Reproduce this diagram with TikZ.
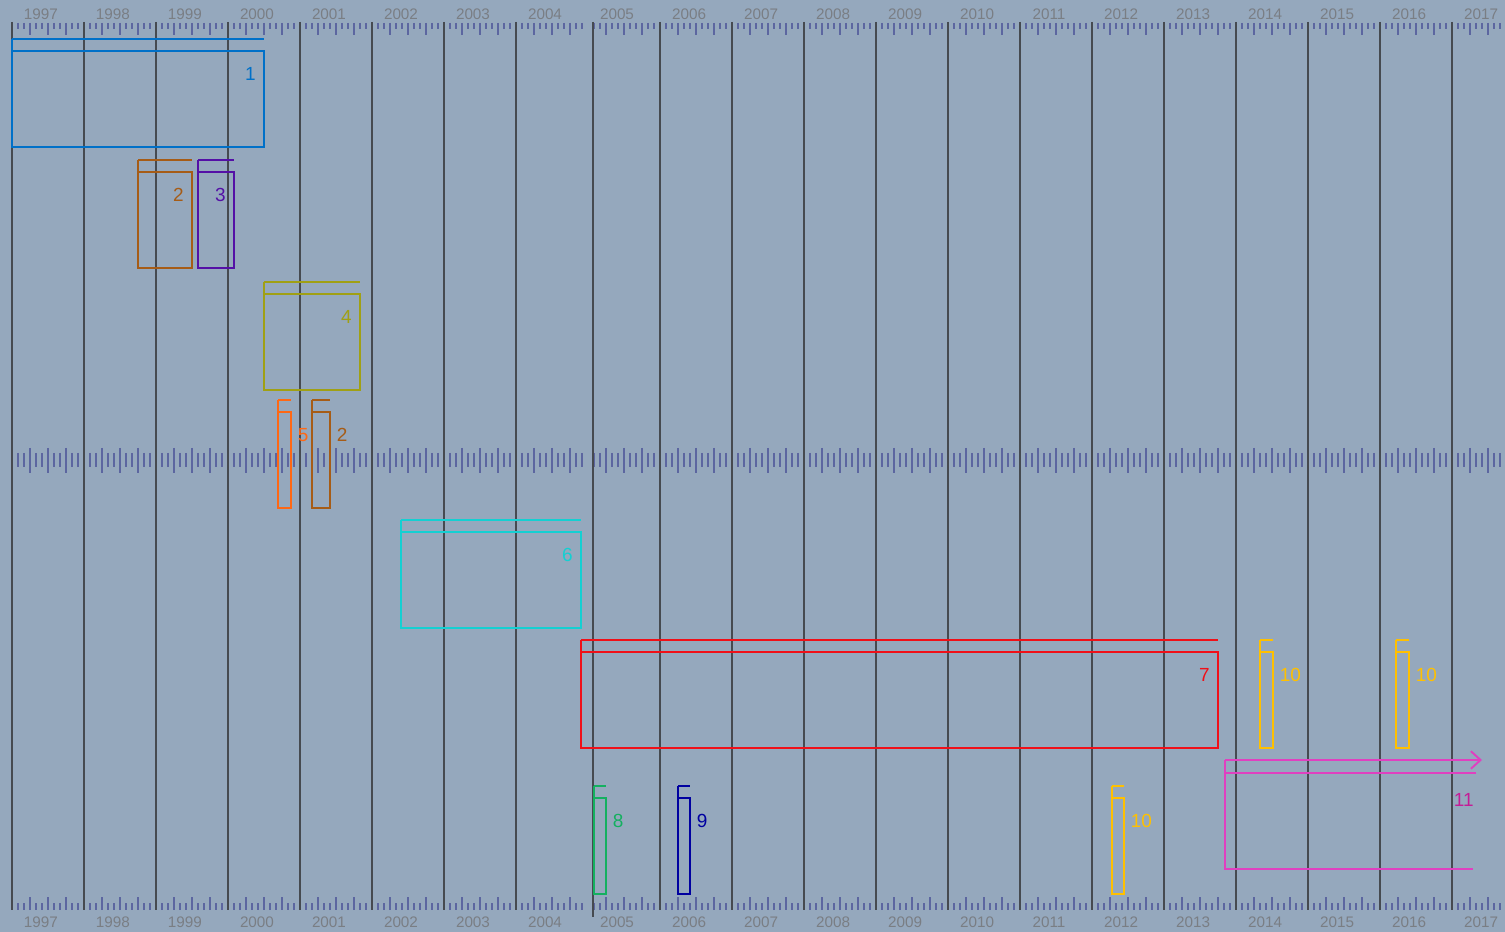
\documentclass[tikz,border=0pt]{standalone}
\usepackage{xcolor}
\usepackage{fontspec}
\setmainfont{Liberation Sans}
\usepackage{tikz}
\usetikzlibrary{arrows.meta}
\definecolor{PanelBlue}{RGB}{149,168,189}
\definecolor{GridGrey}{RGB}{70,74,80}
\definecolor{TickBlue}{RGB}{92,102,160}
\definecolor{YearGrey}{RGB}{122,126,132}
\definecolor{StintBlue}{RGB}{0,112,200}
\definecolor{StintBrown}{RGB}{166,92,22}
\definecolor{StintPurple}{RGB}{84,16,166}
\definecolor{StintOlive}{RGB}{160,160,20}
\definecolor{StintOrange}{RGB}{255,104,20}
\definecolor{StintCyan}{RGB}{20,208,210}
\definecolor{StintRed}{RGB}{240,16,24}
\definecolor{StintGold}{RGB}{255,192,0}
\definecolor{StintGreen}{RGB}{20,176,96}
\definecolor{StintNavy}{RGB}{0,0,160}
\definecolor{StintMagenta}{RGB}{224,64,192}
\definecolor{LabelMagenta}{RGB}{196,28,150}
\newcommand{\yearfont}{\fontsize{8.7pt}{9pt}\selectfont}
\newcommand{\stintfont}{\fontsize{10.8pt}{11pt}\selectfont}
% #1 label style, #2 name, #3 from, #4 to, #5 top, #6 colour, #7 label
\newcommand{\stint}[7][inlabel]{%
  \draw[bar, #6] (#3,#5) -- (#4,#5);
  \draw[bar, #6] (#3,#5) -- (#3,#5+108) -- (#4,#5+108) -- (#4,#5+12) -- (#3,#5+12);
  \node[#1, text=#6] (#2) at (#4,#5+35) {#7};
}

\begin{document}
\begin{tikzpicture}[x=0.02cm, y=-0.02cm,
    bar/.style={line width=1.1pt},
    gridline/.style={GridGrey, line width=1.1pt},
    tick/.style={TickBlue, line width=1pt},
    year/.style={YearGrey, font=\yearfont, inner sep=0pt},
    inlabel/.style={anchor=east, inner sep=0pt, xshift=-0.16cm, font=\stintfont},
    outlabel/.style={anchor=west, inner sep=0pt, xshift=0.13cm, font=\stintfont}]
  \fill[PanelBlue] (0,0) rectangle (1505,932);
  \useasboundingbox (0,0) rectangle (1505,932);

  % month ticks on the three rulers
  \foreach \k in {0,...,20} {
    \foreach \m in {1,2,4,5,7,8,10,11} {
      \draw[tick] (12+72*\k+6*\m,23) -- ++(0,6);
      \draw[tick] (12+72*\k+6*\m,453) -- ++(0,14);
      \draw[tick] (12+72*\k+6*\m,903) -- ++(0,7);
    }
    \foreach \m in {3,6,9} {
      \draw[tick] (12+72*\k+6*\m,23) -- ++(0,12);
      \draw[tick] (12+72*\k+6*\m,448) -- ++(0,25);
      \draw[tick] (12+72*\k+6*\m,897) -- ++(0,13);
    }
  }

  % year lines and labels
  \foreach \k in {0,...,7,9,10,...,20}
    \draw[gridline] (12+72*\k,22) -- (12+72*\k,910);
  \draw[gridline] (593,22) -- (593,917);
  \foreach \k in {0,...,20} {
    \pgfmathtruncatemacro{\yr}{1997+\k}
    \node[year] (top\k) at (41+72*\k,14) {\yr};
    \node[year] (bot\k) at (41+72*\k,922) {\yr};
  }

  % stints
  \stint{s1}{12}{264}{39}{StintBlue}{1}
  \stint{s2}{138}{192}{160}{StintBrown}{2}
  \stint{s3}{198}{234}{160}{StintPurple}{3}
  \stint{s4}{264}{360}{282}{StintOlive}{4}
  \stint[outlabel]{s5}{278}{291}{400}{StintOrange}{5}
  \stint[outlabel]{s2b}{312}{330}{400}{StintBrown}{2}
  \stint{s6}{401}{581}{520}{StintCyan}{6}
  \stint{s7}{581}{1218}{640}{StintRed}{7}
  \stint[outlabel]{s10a}{1260}{1273}{640}{StintGold}{10}
  \stint[outlabel]{s10b}{1396}{1409}{640}{StintGold}{10}
  \stint[outlabel]{s8}{594}{606}{786}{StintGreen}{8}
  \stint[outlabel]{s9}{678}{690}{786}{StintNavy}{9}
  \stint[outlabel]{s10c}{1112}{1124}{786}{StintGold}{10}

  % open-ended stint
  \coordinate (s11a) at (1225,760);
  \coordinate (s11b) at (1482,760);
  \draw[bar, StintMagenta, -{Straight Barb[length=5.5pt, width=10pt]}] (s11a) -- (s11b);
  \draw[bar, StintMagenta] (1476,773) -- (1225,773);
  \draw[bar, StintMagenta] (s11a) -- (1225,869) -- (1473,869);
  \node[anchor=east, inner sep=0pt, font=\stintfont, text=LabelMagenta] (s11) at (1474,800) {11};
\end{tikzpicture}
\end{document}
